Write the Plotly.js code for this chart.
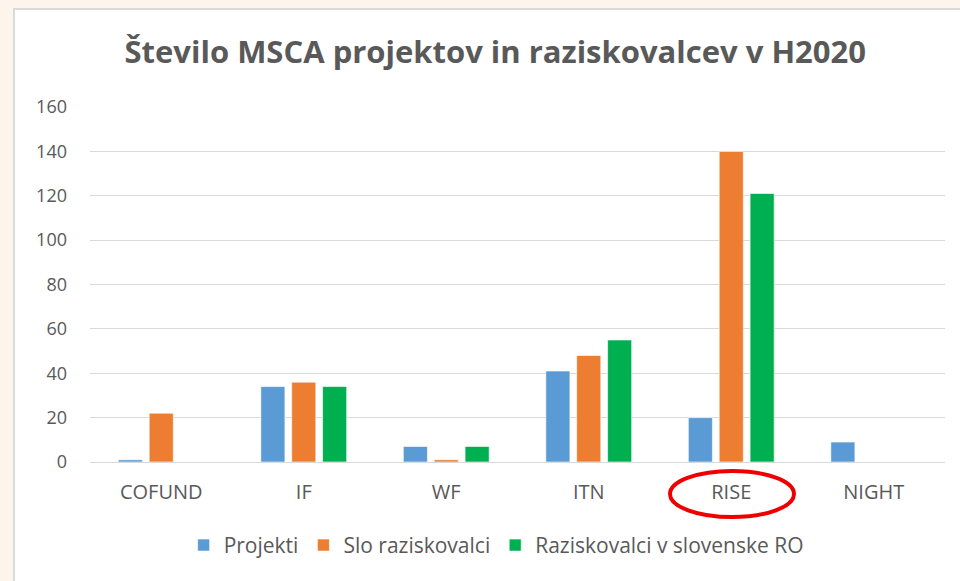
<!DOCTYPE html>
<html>
<head>
<meta charset="utf-8">
<script src="https://cdn.plot.ly/plotly-3.0.1.min.js"></script>
<style>
  html, body { margin: 0; padding: 0; width: 960px; height: 581px; overflow: hidden; background: #fdf4ec; }
  #frame { position: absolute; left: 13px; top: 8px; width: 947px; height: 573px; background: #ffffff;
           border-left: 2px solid #dadada; border-top: 2px solid #dadada; }
  #chart { position: absolute; left: 0; top: 0; width: 947px; height: 573px; }
</style>
</head>
<body>
<div id="frame"><div id="chart"></div></div>
<script>
const categories = ["COFUND", "IF", "WF", "ITN", "RISE", "NIGHT"];
const projekti = [1, 34, 7, 41, 20, 9];
const sloRaziskovalci = [22, 36, 1, 48, 140, 0];
const raziskovalciRO = [0, 34, 7, 55, 121, 0];
const seriesNames = ["Projekti", "Slo raziskovalci", "Raziskovalci v slovenske RO"];
const colors = ["#5B9BD5", "#ED7D31", "#00B050"];
const yTicks = [0, 20, 40, 60, 80, 100, 120, 140, 160];

const font = "'Open Sans', Lato, sans-serif";
const txt = "#595959";

const series = [projekti, sloRaziskovalci, raziskovalciRO];
const data = series.map((vals, i) => ({
  type: "bar",
  x: categories,
  y: vals,
  name: seriesNames[i],
  marker: { color: colors[i], line: { color: "rgba(255,255,255,0.6)", width: 1 } },
  hoverinfo: "x+y+name"
}));

const layout = {
  width: 945, height: 571,
  paper_bgcolor: "#ffffff", plot_bgcolor: "#ffffff",
  margin: { l: 75, r: 15, t: 97, b: 119 },
  font: { family: font, color: txt, size: 18 },
  title: { text: "<b>Število MSCA projektov in raziskovalcev v H2020</b>",
           font: { family: font, size: 31, color: txt },
           x: 0.474, xanchor: "center", xref: "paper", y: 1 - 42/571, yanchor: "middle", yref: "container" },
  barmode: "group", bargap: 0.35, bargroupgap: 0.22,
  xaxis: { type: "category", showgrid: false, showline: false, zeroline: false,
           ticks: "", ticklabelstandoff: 16, tickfont: { size: 20, color: txt, family: font } },
  yaxis: { range: [0, 160], tickvals: yTicks, ticktext: yTicks.map(String),
           showgrid: true, gridcolor: "#d9d9d9", gridwidth: 1,
           zeroline: true, zerolinecolor: "#d9d9d9", zerolinewidth: 1,
           showline: false, ticks: "", ticklabelstandoff: 22,
           tickfont: { size: 18, color: txt, family: font } },
  legend: { orientation: "h", x: 0.475, xanchor: "center", y: -0.235, yanchor: "middle",
            font: { size: 21, color: txt, family: font }, itemwidth: 30, traceorder: "normal" },
  shapes: [{ type: "circle", xref: "paper", yref: "paper",
             x0: (670-90)/855, x1: (794-90)/855,
             y0: (462-471)/355, y1: (462-517)/355,
             line: { color: "#ee0000", width: 4 } }]
};

Plotly.newPlot("chart", data, layout, { displayModeBar: false, staticPlot: true });
</script>
</body>
</html>
